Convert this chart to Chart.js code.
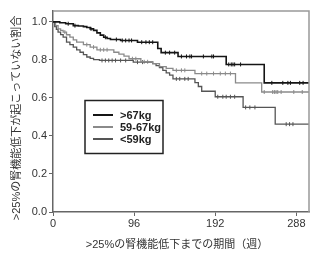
<!DOCTYPE html>
<html>
<head>
<meta charset="utf-8">
<script src="https://cdn.jsdelivr.net/npm/chart.js@4"></script>
<style>
  html, body { margin: 0; padding: 0; background: #fff; }
  #wrap { width: 326px; height: 256px; }
</style>
</head>
<body>
<div id="wrap"><canvas id="kmchart" width="326" height="256"></canvas></div>
<script>
// group names
const groups = ['>67kg', '59-67kg', '<59kg']

// event times (weeks) and survival after each step
const timesHeavy = [0, 8, 15, 24, 30, 36, 40, 44, 48, 52, 56, 60, 64, 68, 80, 100, 124, 128, 148, 205, 250, 303]
const survHeavy = [1.0, 0.995, 0.99, 0.98, 0.978, 0.975, 0.97, 0.963, 0.955, 0.942, 0.93, 0.919, 0.912, 0.907, 0.902, 0.893, 0.86, 0.838, 0.818, 0.776, 0.679, 0.679]

const timesMid = [0, 3, 6, 9, 12, 16, 20, 24, 28, 36, 44, 52, 72, 78, 84, 90, 104, 118, 126, 134, 142, 168, 216, 247, 303]
const survMid = [1.0, 0.98, 0.963, 0.955, 0.946, 0.932, 0.92, 0.905, 0.893, 0.88, 0.867, 0.853, 0.84, 0.83, 0.82, 0.806, 0.79, 0.78, 0.765, 0.755, 0.745, 0.728, 0.679, 0.631, 0.631]

const timesLight = [0, 2, 4, 6, 9, 12, 16, 20, 24, 28, 32, 36, 40, 44, 48, 55, 95, 118, 122, 126, 130, 134, 138, 142, 168, 172, 176, 192, 225, 263, 303]
const survLight = [1.0, 0.975, 0.96, 0.946, 0.933, 0.92, 0.893, 0.88, 0.867, 0.853, 0.84, 0.828, 0.815, 0.808, 0.801, 0.797, 0.788, 0.78, 0.77, 0.76, 0.745, 0.732, 0.72, 0.70, 0.68, 0.66, 0.635, 0.606, 0.55, 0.462, 0.462]

// censored observations (weeks)
const censorHeavy = [18, 26, 45, 62, 75, 82, 86, 90, 93, 105, 110, 114, 118, 133, 138, 144, 152, 158, 162, 164, 178, 188, 190, 208, 211, 213, 215, 222, 259, 272, 278, 281, 292, 296]
const censorMid = [14, 40, 48, 56, 60, 64, 94, 98, 108, 112, 146, 152, 156, 176, 182, 190, 198, 204, 210, 250, 260, 262, 264, 266, 270, 285, 295]
const censorLight = [58, 62, 66, 70, 74, 80, 86, 100, 106, 146, 150, 156, 160, 195, 201, 205, 210, 215, 228, 233, 239, 276, 280, 284]

const xTicks = [0, 96, 192, 288]
const xTitle = '>25%の腎機能低下までの期間（週）'
const yTitle = '>25%の腎機能低下が起こっていない割合'

const colors = ['#151515', '#8a8a8a', '#555555']
const font = "'Liberation Sans', Arial, 'Noto Sans CJK JP', sans-serif"

function stepPoints(times, surv) {
  return times.map(function (t, i) { return {x: t, y: surv[i]} })
}

// value of the step curve at time t
function survAt(times, surv, t) {
  let v = surv[0]
  for (let i = 0; i < times.length; i++) {
    if (times[i] <= t) v = surv[i]
  }
  return v
}

function censorPoints(cens, times, surv) {
  return cens.map(function (t) { return {x: t, y: survAt(times, surv, t)} })
}

const curveData = [
  [timesHeavy, survHeavy, censorHeavy],
  [timesMid, survMid, censorMid],
  [timesLight, survLight, censorLight]
]

let datasets = []
curveData.forEach(function (c, i) {
  datasets.push({
    label: groups[i],
    data: stepPoints(c[0], c[1]),
    borderColor: colors[i],
    borderWidth: i == 0 ? 1.6 : 1.3,
    stepped: 'before',
    pointRadius: 0,
    fill: false
  })
})
curveData.forEach(function (c, i) {
  datasets.push({
    label: 'censor',
    data: censorPoints(c[2], c[0], c[1]),
    showLine: false,
    pointStyle: 'line',
    rotation: 90,
    pointRadius: 2,
    borderColor: colors[i],
    pointBorderColor: colors[i],
    pointBorderWidth: 1
  })
})

// gray frame on top and right + axis titles
const framePlugin = {
  id: 'frame',
  afterDraw(chart) {
    const a = chart.chartArea
    const ctx = chart.ctx
    ctx.save()
    ctx.strokeStyle = '#999'
    ctx.lineWidth = 1.5
    ctx.beginPath()
    ctx.moveTo(a.left, a.top)
    ctx.lineTo(a.right, a.top)
    ctx.lineTo(a.right, a.bottom)
    ctx.stroke()

    ctx.fillStyle = '#333'
    ctx.font = '11px ' + font
    ctx.textAlign = 'center'
    ctx.textBaseline = 'middle'
    ctx.fillText(xTitle, 177, 245)
    ctx.translate(17, 118)
    ctx.rotate(-Math.PI / 2)
    ctx.fillText(yTitle, 0, 0)
    ctx.restore()
  }
}

// boxed legend inside plot
const legendBox = {
  id: 'legendBox',
  afterDraw(chart) {
    const ctx = chart.ctx
    ctx.save()
    ctx.strokeStyle = '#222'
    ctx.lineWidth = 1.5
    ctx.strokeRect(85, 100.5, 78, 53)
    ctx.font = 'bold 11px ' + font
    ctx.textBaseline = 'middle'
    ctx.fillStyle = '#222'
    const rows = [115, 127, 139]
    groups.forEach(function (g, i) {
      ctx.strokeStyle = colors[i]
      ctx.lineWidth = 2
      ctx.beginPath()
      ctx.moveTo(93, rows[i])
      ctx.lineTo(113, rows[i])
      ctx.stroke()
      ctx.fillText(g, 120, rows[i] + 0.5)
    })
    ctx.restore()
  }
}

new Chart(document.getElementById('kmchart'), {
  type: 'line',
  data: {datasets: datasets},
  plugins: [framePlugin, legendBox],
  options: {
    responsive: false,
    animation: false,
    devicePixelRatio: 1,
    layout: {padding: {left: 0, top: 11, right: 17, bottom: 0}},
    plugins: {
      legend: {display: false},
      tooltip: {enabled: false}
    },
    scales: {
      x: {
        type: 'linear',
        min: 0,
        max: 303,
        afterFit: function (s) { s.height = 44 },
        afterBuildTicks: function (s) { s.ticks = xTicks.map(function (v) { return {value: v} }) },
        ticks: {color: '#333', font: {family: font, size: 11}, padding: 1, maxRotation: 0},
        grid: {drawOnChartArea: false, drawTicks: true, tickLength: 4, color: '#666'},
        border: {display: true, color: '#666', width: 1.5}
      },
      y: {
        min: 0,
        max: 1.057,
        afterFit: function (s) { s.width = 53 },
        ticks: {
          stepSize: 0.2,
          includeBounds: false,
          color: '#333',
          font: {family: font, size: 11},
          padding: 2,
          callback: function (v) { return v.toFixed(1) }
        },
        grid: {drawOnChartArea: false, drawTicks: true, tickLength: 4, color: '#666'},
        border: {display: true, color: '#666', width: 1.5}
      }
    }
  }
})
</script>
</body>
</html>
